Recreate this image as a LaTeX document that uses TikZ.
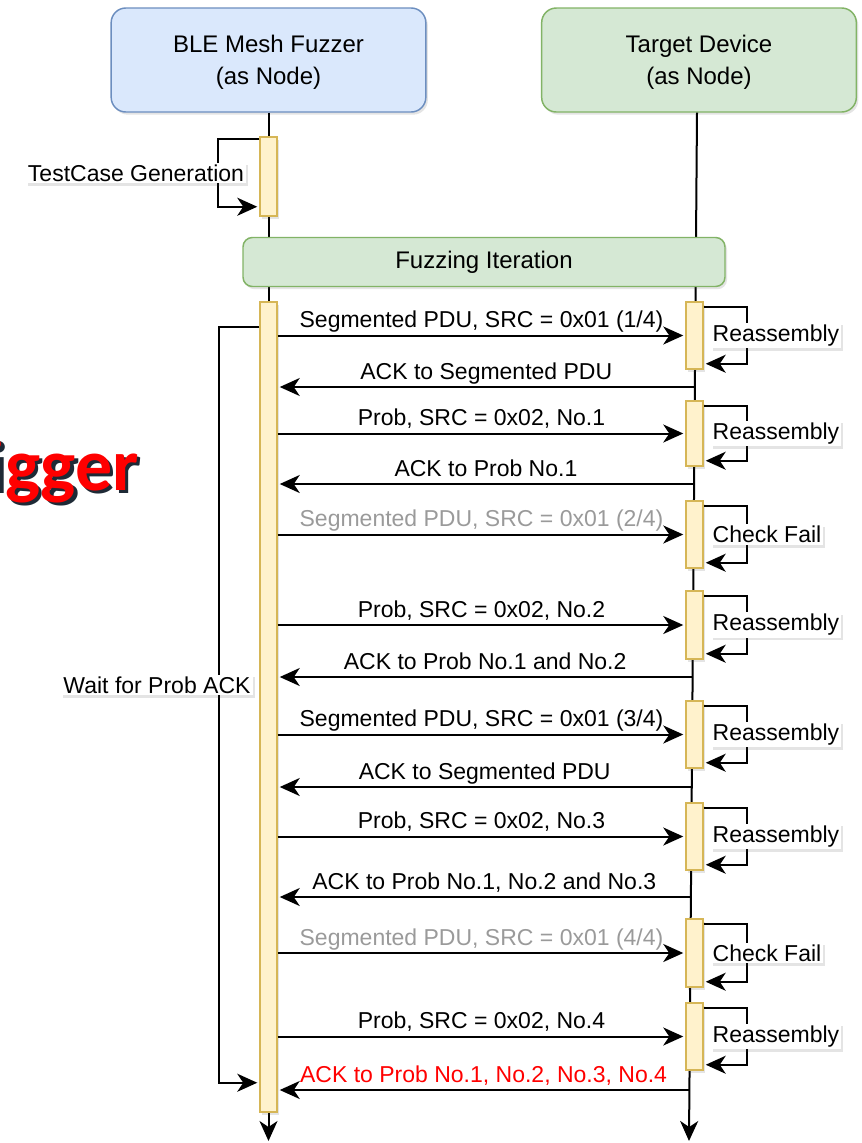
\documentclass[tikz,border=0pt]{standalone}
\usepackage{fontspec}
\setmainfont{Liberation Sans}
\newfontfamily\trigfont{Carlito}
\usetikzlibrary{arrows.meta,positioning,shadows}

\definecolor{fuzzfill}{HTML}{DAE8FC}
\definecolor{fuzzline}{HTML}{6C8EBF}
\definecolor{devfill}{HTML}{D5E8D4}
\definecolor{devline}{HTML}{82B366}
\definecolor{barfill}{HTML}{FFF2CC}
\definecolor{barline}{HTML}{D6B656}
\definecolor{dimtext}{HTML}{9A9A9A}
\definecolor{trigred}{HTML}{FF0000}
\definecolor{trigshade}{HTML}{1E2A36}

\tikzset{
  softshadow/.style={drop shadow={shadow xshift=1.5pt, shadow yshift=-2pt, opacity=0.15, fill=black!70}},
  head/.style={draw, line width=1.1pt, rounded corners=11pt, minimum width=236pt,
    minimum height=78pt, align=center, softshadow,
    font=\fontsize{18}{24}\selectfont},
  iter/.style={draw=devline, fill=devfill, line width=1.1pt, rounded corners=7pt,
    minimum width=361.5pt, minimum height=36.75pt, softshadow,
    font=\fontsize{18}{24}\selectfont},
  actbar/.style={draw=barline, fill=barfill, line width=1.1pt, minimum width=12.75pt,
    inner sep=0pt, softshadow},
  life/.style={line width=1.5pt, -{Stealth[length=15pt, width=13.5pt, inset=4.5pt]}},
  msg/.style={line width=1.5pt, -{Stealth[length=15pt, width=13.5pt, inset=4.5pt]}, shorten >=1.5pt},
  msgtxt/.style={midway, anchor=base, yshift=6pt, inner sep=0pt},
  looplbl/.style={fill=white, inner sep=1.5pt, softshadow},
  trig/.style={font=\trigfont\bfseries\fontsize{55.5}{60}\selectfont, anchor=base east, inner sep=0pt}
}

\begin{document}
\begin{tikzpicture}[x=0.75pt, y=-0.75pt, font=\fontsize{17.25}{24}\selectfont]
\useasboundingbox (0,0) rectangle (862,1143);

% caption word running off the left border
\begin{scope}
\clip (0,0) rectangle (862,1143);
\node[trig, text=trigshade] (trigs) at (142.5,493.5) {Trigger};
\node[trig, text=trigred] (trig) at (139,490) {Trigger};
\end{scope}

% participants
\node[head, fill=fuzzfill, draw=fuzzline] (fz) at (268.5,60) {\strut BLE Mesh Fuzzer\\(as Node)};
\node[head, fill=devfill, draw=devline] (td) at (699,60) {\strut Target Device\\(as Node)};

% lifelines
\coordinate (fzend) at (268.5,1141);
\coordinate (tdend) at (689,1141);
\draw[life] (fz.south) -- (fzend);
\draw[life] ([xshift=-1.5pt]td.south) -- (tdend);

% test case generation
\node[actbar, minimum height=59.25pt] (tc) at (268.5,176.5) {};
\draw[msg] ([yshift=-2.25pt]tc.north west) -- ++(-41,0) |- ([yshift=7.5pt]tc.south west);
\node[looplbl] (tcl) at (136,173) {TestCase Generation};

\node[iter] (it) at (484,262) {Fuzzing Iteration};

% fuzzer waits for the prob ack
\node[actbar, minimum height=607.5pt] (fa) at (268.5,707) {};
\draw[msg] ([yshift=-19.5pt]fa.north west) -- ++(-40,0) |- ([yshift=22.5pt]fa.south west);
\node[looplbl] (wl) at (157,685) {Wait for Prob ACK};

% target activations
\node[actbar, minimum height=50.25pt] (r1) at (694.5,335.5) {};
\node[actbar, minimum height=48.75pt] (r2) at (694.5,433.5) {};
\node[actbar, minimum height=50.25pt] (r3) at (694.5,534.5) {};
\node[actbar, minimum height=51pt] (r4) at (694.5,625) {};
\node[actbar, minimum height=50.25pt] (r5) at (694.5,734.5) {};
\node[actbar, minimum height=50.25pt] (r6) at (694.5,836.5) {};
\node[actbar, minimum height=51pt] (r7) at (694.5,953) {};
\node[actbar, minimum height=50.25pt] (r8) at (694.5,1036.5) {};

% self loops on the target
\draw[msg] ([yshift=-4.5pt]r1.north east) -- ++(43,0) |- ([yshift=4.5pt]r1.south east);
\draw[msg] ([yshift=-4.5pt]r2.north east) -- ++(43,0) |- ([yshift=4.5pt]r2.south east);
\draw[msg] ([yshift=-4.5pt]r3.north east) -- ++(43,0) |- ([yshift=4.5pt]r3.south east);
\draw[msg] ([yshift=-4.5pt]r4.north east) -- ++(43,0) |- ([yshift=4.5pt]r4.south east);
\draw[msg] ([yshift=-4.5pt]r5.north east) -- ++(43,0) |- ([yshift=4.5pt]r5.south east);
\draw[msg] ([yshift=-4.5pt]r6.north east) -- ++(43,0) |- ([yshift=4.5pt]r6.south east);
\draw[msg] ([yshift=-4.5pt]r7.north east) -- ++(43,0) |- ([yshift=4.5pt]r7.south east);
\draw[msg] ([yshift=-4.5pt]r8.north east) -- ++(43,0) |- ([yshift=4.5pt]r8.south east);

\node[looplbl, right=5pt of r1] (n1) {Reassembly};
\node[looplbl, right=5pt of r2] (n2) {Reassembly};
\node[looplbl, right=5pt of r3] (n3) {Check Fail};
\node[looplbl, right=5pt of r4] (n4) {Reassembly};
\node[looplbl, right=5pt of r5] (n5) {Reassembly};
\node[looplbl, right=5pt of r6] (n6) {Reassembly};
\node[looplbl, right=5pt of r7] (n7) {Check Fail};
\node[looplbl, right=5pt of r8] (n8) {Reassembly};

% ack start points on the target lifeline
\coordinate (a1) at (694.9,387);
\coordinate (a2) at (694.1,484);
\coordinate (a3) at (692.6,677);
\coordinate (a4) at (691.7,787);
\coordinate (a5) at (690.9,897);
\coordinate (a6) at (689.4,1090);

% messages
\draw[msg] (fa.east |- r1) -- node[msgtxt] {Segmented PDU, SRC = 0x01 (1/4)} (r1.west);
\draw[msg] (a1) -- node[msgtxt] {ACK to Segmented PDU} (fa.east |- a1);
\draw[msg] (fa.east |- r2) -- node[msgtxt] {Prob, SRC = 0x02, No.1} (r2.west);
\draw[msg] (a2) -- node[msgtxt] {ACK to Prob No.1} (fa.east |- a2);
\draw[msg] (fa.east |- r3) -- node[msgtxt, text=dimtext] {Segmented PDU, SRC = 0x01 (2/4)} (r3.west);
\draw[msg] (fa.east |- r4) -- node[msgtxt] {Prob, SRC = 0x02, No.2} (r4.west);
\draw[msg] (a3) -- node[msgtxt] {ACK to Prob No.1 and No.2} (fa.east |- a3);
\draw[msg] (fa.east |- r5) -- node[msgtxt] {Segmented PDU, SRC = 0x01 (3/4)} (r5.west);
\draw[msg] (a4) -- node[msgtxt] {ACK to Segmented PDU} (fa.east |- a4);
\draw[msg] (fa.east |- r6) -- node[msgtxt] {Prob, SRC = 0x02, No.3} (r6.west);
\draw[msg] (a5) -- node[msgtxt] {ACK to Prob No.1, No.2 and No.3} (fa.east |- a5);
\draw[msg] (fa.east |- r7) -- node[msgtxt, text=dimtext] {Segmented PDU, SRC = 0x01 (4/4)} (r7.west);
\draw[msg] (fa.east |- r8) -- node[msgtxt] {Prob, SRC = 0x02, No.4} (r8.west);
\draw[msg] (a6) -- node[msgtxt, text=red] {ACK to Prob No.1, No.2, No.3, No.4} (fa.east |- a6);
\end{tikzpicture}
\end{document}
